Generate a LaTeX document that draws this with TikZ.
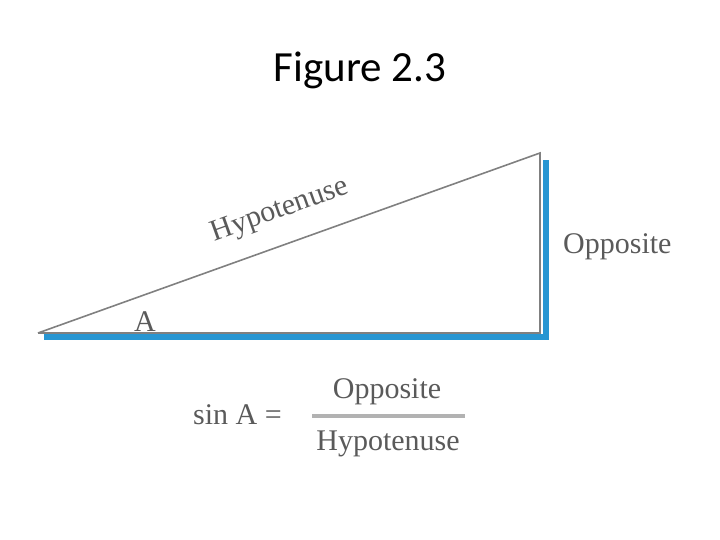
\documentclass[tikz,border=0pt]{standalone}
\usepackage{fontspec}
\setmainfont{Liberation Serif}
\newfontfamily\titlefont{Carlito}
\definecolor{shadowblue}{RGB}{40,150,210}
\definecolor{textgray}{RGB}{90,90,90}
\tikzset{
  lbl/.style={text=textgray,font=\fontsize{30}{33}\selectfont,inner sep=0pt},
  edge/.style={draw=gray,line width=1.6pt}
}
\begin{document}
\begin{tikzpicture}[x=1pt,y=1pt]
            \useasboundingbox (0,0) rectangle (720,540);

            % Title
            \node[font=\titlefont\fontsize{43}{48}\selectfont] (title) at (360,470) {Figure 2.3};

            % Triangle corners
            \coordinate (left) at (38,207);
            \coordinate (top) at (540,387);
            \coordinate (right) at (540,207);

            % Blue shadow
            \fill[shadowblue] (44,200) rectangle (549,206);
            \fill[shadowblue] (543,200) rectangle (549,380);

            \draw[edge] (left) -- (top) -- (right) -- (left);

            % Labels
            \node[lbl,rotate=19.7] (hyp) at (280,329) {Hypotenuse};
            \node[lbl,anchor=west] (opp) at (563,293) {Opposite};
            \node[lbl] (angle) at (145,218) {A};

            % Formula
            \node[lbl,anchor=east] (sinA) at (282,125) {sin A =};
            \node[lbl] (num) at (387,148) {Opposite};
            \node[lbl] (den) at (388,96) {Hypotenuse};
            \draw[line width=4pt,color=gray!60] (312,124) -- (465,124);
\end{tikzpicture}
\end{document}
